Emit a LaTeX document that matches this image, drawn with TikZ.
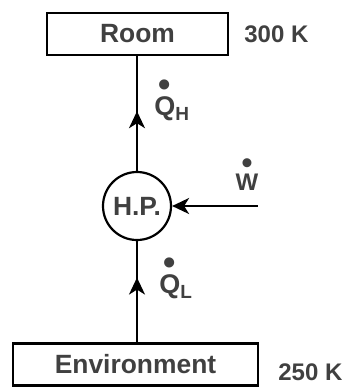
\documentclass[tikz,border=0pt]{standalone}
\usepackage{fontspec}
\setmainfont{Liberation Sans}
\usetikzlibrary{arrows.meta, decorations.markings}

% dot over a rate symbol, and its lowered subscript
\newcommand{\ratedot}[1]{\leavevmode\setbox0=\hbox{#1}\rlap{\makebox[\wd0][c]{\raisebox{0.67em}{\scalebox{1.3}{\textbullet}}}}\box0}
\newcommand{\flowsub}[1]{\raisebox{-2.5pt}{\fontsize{9.5}{11}\selectfont #1}}

\begin{document}
\begin{tikzpicture}[
    x=0.5pt, y=-0.5pt,
    font=\fontsize{13.2}{15}\selectfont\bfseries,
    text=black!75,
    >={Stealth[length=8.5pt, width=8pt, inset=2.5pt]},
    reservoir/.style={draw=black, line width=1.1pt, minimum height=21pt, inner sep=0pt},
    pump/.style={draw=black, line width=1.1pt, circle, minimum size=34pt, inner sep=0pt},
    temp/.style={anchor=west, inner sep=0pt, font=\fontsize{12}{14}\selectfont\bfseries},
    rate/.style={inner sep=0pt, font=\fontsize{13.5}{15}\selectfont\bfseries},
    flow/.style={line width=1.1pt, postaction={decorate},
                 decoration={markings, mark=at position #1 with {\arrow{>}}}},
    work/.style={line width=1.1pt, ->},
  ]
    \useasboundingbox (0,0) rectangle (344,388);
    % reservoirs and the pump
    \node[reservoir, minimum width=90.5pt]  (room) at (137.5,34)  {Room};
    \node[temp]                             (th)   at (244,34)    {300 K};
    \node[pump]                             (hp)   at (137,206)   {H.P.};
    \node[reservoir, minimum width=122.5pt] (env)  at (135.5,364.5) {Environment};
    \node[temp]                             (tl)   at (278,372)   {250 K};
    % rate labels
    \node[rate, anchor=base west] (qh) at (154,115) {\ratedot{Q}\flowsub{H}};
    \node[rate, anchor=base west] (ql) at (159,293) {\ratedot{Q}\flowsub{L}};
    \node[rate, anchor=base, font=\fontsize{12}{14}\selectfont\bfseries] (w) at (247,190) {\ratedot{W}};
    \coordinate (wsrc) at (258,206);
    % heat and work flows
    \draw[flow=0.52] (hp.north) -- (hp.north |- room.south);
    \draw[flow=0.64] (hp.south |- env.north) -- (hp.south);
    \draw[work] (wsrc) -- (hp.east);
\end{tikzpicture}
\end{document}
